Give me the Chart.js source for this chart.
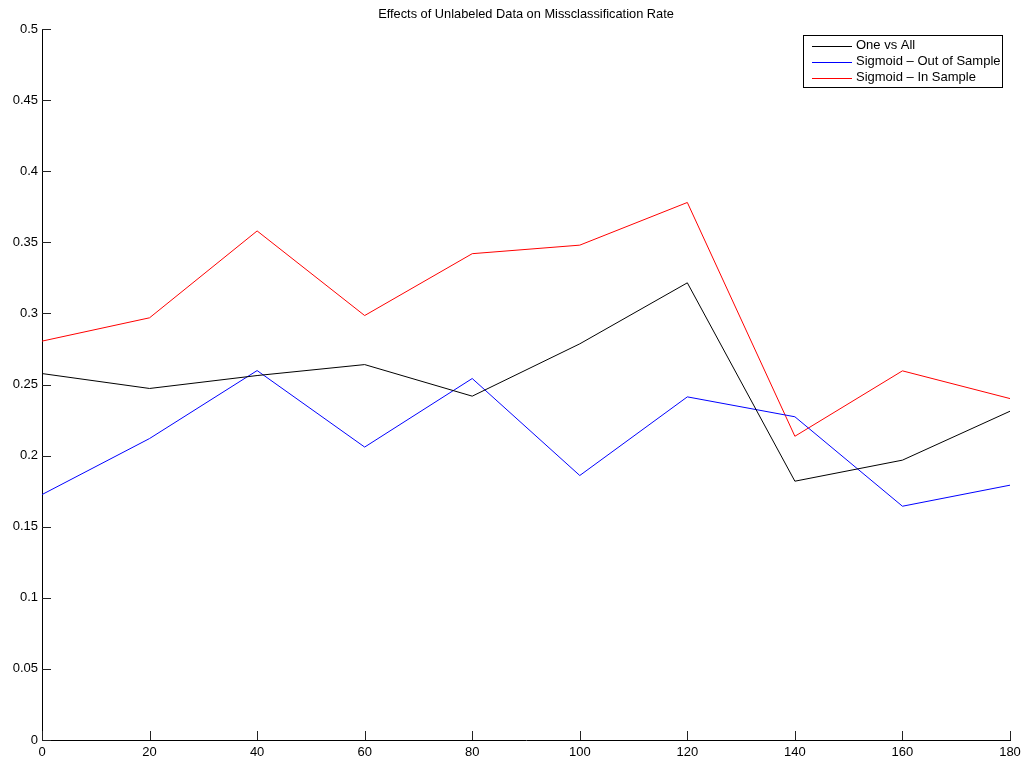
<!DOCTYPE html>
<html>
<head>
<meta charset="utf-8">
<title>Effects of Unlabeled Data on Missclassification Rate</title>
<script src="https://cdn.jsdelivr.net/npm/chart.js@4/dist/chart.umd.min.js"></script>
<style>
  html, body { margin: 0; padding: 0; background: #fff; }
  #wrap { width: 1022px; height: 760px; }
</style>
</head>
<body>
<div id="wrap"><canvas id="chart" width="1022" height="760"></canvas></div>
<script>
// Number of unlabeled examples added (x) and resulting misclassification rate (y)
const unlabeledCounts = [0, 20, 40, 60, 80, 100, 120, 140, 160, 180];
const oneVsAll      = [0.2577, 0.2472, 0.2563, 0.2640, 0.2418, 0.2786, 0.3215, 0.1820, 0.1968, 0.2312];
const sigmoidOut    = [0.1726, 0.2120, 0.2598, 0.2060, 0.2542, 0.1860, 0.2413, 0.2273, 0.1644, 0.1792];
const sigmoidIn     = [0.2805, 0.2969, 0.3580, 0.2985, 0.3420, 0.3480, 0.3780, 0.2136, 0.2596, 0.2401];
const seriesNames   = ['One vs All', 'Sigmoid \u2013 Out of Sample', 'Sigmoid \u2013 In Sample'];
const seriesColors  = ['#000000', '#0000ff', '#ff0000'];
const titleText     = 'Effects of Unlabeled Data on Missclassification Rate';

const FONT = '"Liberation Sans", Arial, Helvetica, sans-serif';

function points(values) {
  return unlabeledCounts.map((x, i) => ({ x: x, y: values[i] }));
}

// Inward-pointing tick marks on the left and bottom axes
const inwardTicks = {
  id: 'inwardTicks',
  afterDatasetsDraw(chart) {
    const { ctx, chartArea, scales } = chart;
    const len = 9;
    ctx.save();
    ctx.strokeStyle = '#222';
    ctx.lineWidth = 1;
    ctx.beginPath();
    scales.x.ticks.forEach(t => {
      const px = Math.round(scales.x.getPixelForValue(t.value)) + 0.5;
      ctx.moveTo(px, chartArea.bottom);
      ctx.lineTo(px, chartArea.bottom - len);
    });
    scales.y.ticks.forEach(t => {
      const py = Math.round(scales.y.getPixelForValue(t.value)) + 0.5;
      ctx.moveTo(chartArea.left, py);
      ctx.lineTo(chartArea.left + len, py);
    });
    ctx.stroke();
    ctx.restore();
  }
};

// Title centred over the plot area
const plotTitle = {
  id: 'plotTitle',
  afterDraw(chart) {
    const { ctx, chartArea } = chart;
    ctx.save();
    ctx.fillStyle = '#000';
    ctx.font = '12.8px ' + FONT;
    ctx.textAlign = 'center';
    ctx.textBaseline = 'middle';
    ctx.fillText(titleText, (chartArea.left + chartArea.right) / 2, 14);
    ctx.restore();
  }
};

// Boxed legend in the upper right corner
const boxLegend = {
  id: 'boxLegend',
  afterDraw(chart) {
    const { ctx } = chart;
    const x = 803.5, y = 35.5, w = 199, h = 52;
    ctx.save();
    ctx.fillStyle = '#fff';
    ctx.fillRect(x, y, w, h);
    ctx.strokeStyle = '#000';
    ctx.lineWidth = 1;
    ctx.strokeRect(x, y, w, h);
    ctx.font = '13px ' + FONT;
    ctx.textBaseline = 'middle';
    ctx.textAlign = 'left';
    chart.data.datasets.forEach((ds, i) => {
      const ry = 45.5 + i * 16.2;
      ctx.strokeStyle = ds.borderColor;
      ctx.beginPath();
      ctx.moveTo(812, Math.round(ry) + 0.5);
      ctx.lineTo(852, Math.round(ry) + 0.5);
      ctx.stroke();
      ctx.fillStyle = '#000';
      ctx.fillText(ds.label, 856, ry);
    });
    ctx.restore();
  }
};

const series = [oneVsAll, sigmoidOut, sigmoidIn];

new Chart(document.getElementById('chart'), {
  type: 'line',
  data: {
    datasets: series.map((vals, i) => ({
      label: seriesNames[i],
      data: points(vals),
      borderColor: seriesColors[i],
      backgroundColor: seriesColors[i],
      borderWidth: 1,
      pointRadius: 0,
      tension: 0,
      fill: false
    }))
  },
  options: {
    responsive: false,
    animation: false,
    devicePixelRatio: 1,
    layout: { padding: { top: 29, right: 12, left: 0, bottom: 0 } },
    plugins: {
      legend: { display: false },
      title: { display: false },
      tooltip: { enabled: false }
    },
    scales: {
      x: {
        type: 'linear',
        min: 0,
        max: 180,
        afterFit(scale) {
          scale.height = 20;
          scale.paddingLeft = 0;
          scale.paddingRight = 0;
        },
        ticks: {
          stepSize: 20,
          color: '#000',
          font: { family: FONT, size: 13 },
          padding: 5,
          maxRotation: 0
        },
        grid: { display: false, drawTicks: false },
        border: { display: true, color: '#000', width: 1 }
      },
      y: {
        type: 'linear',
        min: 0,
        max: 0.5,
        afterFit(scale) {
          scale.width = 42;
          scale.paddingTop = 0;
          scale.paddingBottom = 0;
        },
        ticks: {
          stepSize: 0.05,
          color: '#000',
          font: { family: FONT, size: 13 },
          padding: 4,
          callback: v => String(+Number(v).toFixed(2))
        },
        grid: { display: false, drawTicks: false },
        border: { display: true, color: '#000', width: 1 }
      }
    }
  },
  plugins: [inwardTicks, plotTitle, boxLegend]
});
</script>
</body>
</html>
